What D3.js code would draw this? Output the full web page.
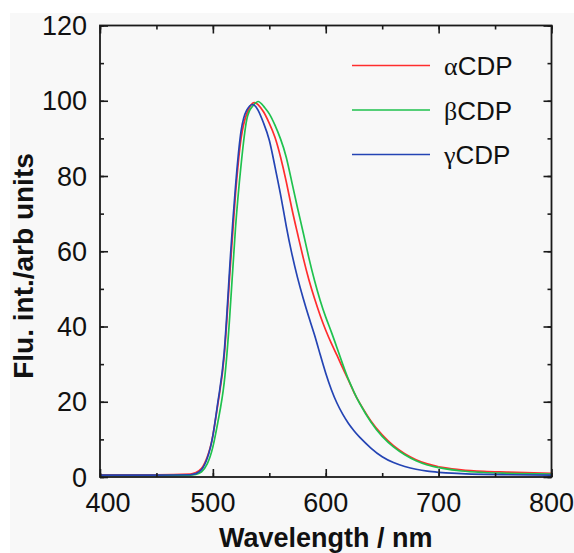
<!DOCTYPE html>
<html><head><meta charset="utf-8">
<script src="https://cdn.jsdelivr.net/npm/d3@7"></script>
<style>
html,body{margin:0;padding:0;background:#fff;}
svg{display:block;}
text{font-family:"Liberation Sans",Arial,sans-serif;fill:#111;}
</style></head>
<body>
<div id="chart"></div>
<script>
// ---- data ----
const wavelengths = [400,450,480,485,490,495,500,505,510,515,520,525,530,535,540,545,550,555,560,565,570,575,580,585,590,595,600,605,610,615,620,625,630,640,650,660,670,680,690,700,720,740,760,800];
const alphaCDP = [0.6,0.6,0.8,1.2,2.3,5.3,11,20.5,32,54,75,90,96.5,99.3,99,97,94,90.3,85,78.5,71.3,64.7,58.3,52.5,47.5,43,39,35.5,32.3,29,25.8,22.5,19.7,14.9,11.2,8.3,6.2,4.6,3.5,2.7,1.9,1.5,1.3,1.0];
const betaCDP  = [0.4,0.4,0.5,0.7,1.4,3.5,8,15.5,25,43,66,83,95,98.5,99.8,98.5,96.5,93.5,89.8,85,78.3,71.5,65,58.3,52.3,47,42.5,38.5,34.3,30,26,22.6,19.6,14.6,10.8,8.0,5.9,4.3,3.2,2.5,1.6,1.2,1.0,0.8];
const gammaCDP = [0.5,0.5,0.6,0.9,2,5,11,21,33,56,77,92,97.5,99,97.5,94,89.5,82.5,75,66.7,59.3,53,47.5,42.5,37.8,32.6,27.6,23.2,19.6,16.7,14.3,12.3,10.6,7.7,5.4,3.85,2.8,2.05,1.55,1.25,0.9,0.7,0.6,0.5];
const seriesNames = ["CDP","CDP","CDP"];
const seriesGreek = ["α","β","γ"];
const seriesColors = ["#ff2d2d","#1fc24e","#2444b4"];
const xTicks = [400,500,600,700,800];
const yTicks = [0,20,40,60,80,100,120];
const xLabel = "Wavelength / nm";
const yLabel = "Flu. int./arb units";

const W = 574, H = 553;
const svg = d3.select("#chart").append("svg").attr("width", W).attr("height", H);

// panel background
svg.append("rect").attr("x",10).attr("y",13).attr("width",W-10).attr("height",H-13).attr("fill","#f8f8f8");

const x = d3.scaleLinear().domain([400,800]).range([100,551.5]);
const y = d3.scaleLinear().domain([0,120]).range([477,25.5]);

svg.append("clipPath").attr("id","clip").append("rect")
  .attr("x",x(400)).attr("y",y(120)).attr("width",x(800)-x(400)).attr("height",y(0)-y(120));

const line = d3.line().x(d=>x(d[0])).y(d=>y(d[1])).curve(d3.curveMonotoneX);
const lineSmooth = d3.line().x(d=>x(d[0])).y(d=>y(d[1])).curve(d3.curveNatural);
const allSeries = [alphaCDP, betaCDP, gammaCDP];
const g = svg.append("g").attr("clip-path","url(#clip)");
allSeries.forEach((s,i)=>{
  const pts = wavelengths.map((w,j)=>[w,s[j]]);
  // flat baseline with monotone curve, the band itself with a natural spline
  const split = wavelengths.indexOf(485);
  const end = wavelengths.indexOf(700);
  g.append("path").datum(pts.slice(0, split+1))
   .attr("d", line).attr("fill","none").attr("stroke", seriesColors[i]).attr("stroke-width",1.7);
  g.append("path").datum(pts.slice(split, end+1))
   .attr("d", lineSmooth).attr("fill","none").attr("stroke", seriesColors[i]).attr("stroke-width",1.7);
  g.append("path").datum(pts.slice(end))
   .attr("d", line).attr("fill","none").attr("stroke", seriesColors[i]).attr("stroke-width",1.7);
});

// axes (inward ticks on all sides)
const axColor = "#1a1a1a";
function styleAxis(sel){
  sel.select(".domain").remove();
  sel.selectAll("line").attr("stroke",axColor).attr("stroke-width",1.6);
}
const xMinor = d3.range(400,801,50);
const yMinor = d3.range(0,121,10);
svg.append("g").attr("transform",`translate(0,${y(0)})`)
  .call(d3.axisBottom(x).tickValues(xMinor).tickSize(-4).tickFormat("")).call(styleAxis);
svg.append("g").attr("transform",`translate(0,${y(0)})`)
  .call(d3.axisBottom(x).tickValues(xTicks).tickSize(-8).tickFormat("")).call(styleAxis);
svg.append("g").attr("transform",`translate(0,${y(120)})`)
  .call(d3.axisTop(x).tickValues(xMinor).tickSize(-4).tickFormat("")).call(styleAxis);
svg.append("g").attr("transform",`translate(0,${y(120)})`)
  .call(d3.axisTop(x).tickValues(xTicks).tickSize(-8).tickFormat("")).call(styleAxis);
svg.append("g").attr("transform",`translate(${x(400)},0)`)
  .call(d3.axisLeft(y).tickValues(yMinor).tickSize(-4).tickFormat("")).call(styleAxis);
svg.append("g").attr("transform",`translate(${x(400)},0)`)
  .call(d3.axisLeft(y).tickValues(yTicks).tickSize(-8).tickFormat("")).call(styleAxis);
svg.append("g").attr("transform",`translate(${x(800)},0)`)
  .call(d3.axisRight(y).tickValues(yMinor).tickSize(-4).tickFormat("")).call(styleAxis);
svg.append("g").attr("transform",`translate(${x(800)},0)`)
  .call(d3.axisRight(y).tickValues(yTicks).tickSize(-8).tickFormat("")).call(styleAxis);

// frame
svg.append("rect").attr("x",x(400)).attr("y",y(120)).attr("width",x(800)-x(400)).attr("height",y(0)-y(120))
  .attr("fill","none").attr("stroke",axColor).attr("stroke-width",1.8);

// tick labels
svg.append("g").selectAll("text").data(xTicks).join("text")
  .attr("x",d=>x(d) + (d===400?8:0)).attr("y",512).attr("text-anchor","middle")
  .attr("font-size",27).text(d=>d);
svg.append("g").selectAll("text").data(yTicks).join("text")
  .attr("x",87).attr("y",d=>y(d)+9.5).attr("text-anchor","end")
  .attr("font-size",27).text(d=>d);

// axis titles
svg.append("text").attr("x",(x(400)+x(800))/2).attr("y",547).attr("text-anchor","middle")
  .attr("font-size",27).attr("font-weight","bold").text(xLabel);
svg.append("text").attr("transform","translate(33,266) rotate(-90)").attr("text-anchor","middle")
  .attr("font-size",28).attr("font-weight","bold").text(yLabel);

// legend
const legendRows = [75,119.5,164];
seriesNames.forEach((n,i)=>{
  const by = legendRows[i];
  svg.append("line").attr("x1",352).attr("x2",430).attr("y1",by-9.5).attr("y2",by-9.5)
    .attr("stroke",seriesColors[i]).attr("stroke-width",1.6);
  const t = svg.append("text").attr("x",444).attr("y",by).attr("font-size",26);
  t.append("tspan").attr("font-family","'Liberation Serif',serif").text(seriesGreek[i]);
  t.append("tspan").text(n);
});
</script>
</body></html>
